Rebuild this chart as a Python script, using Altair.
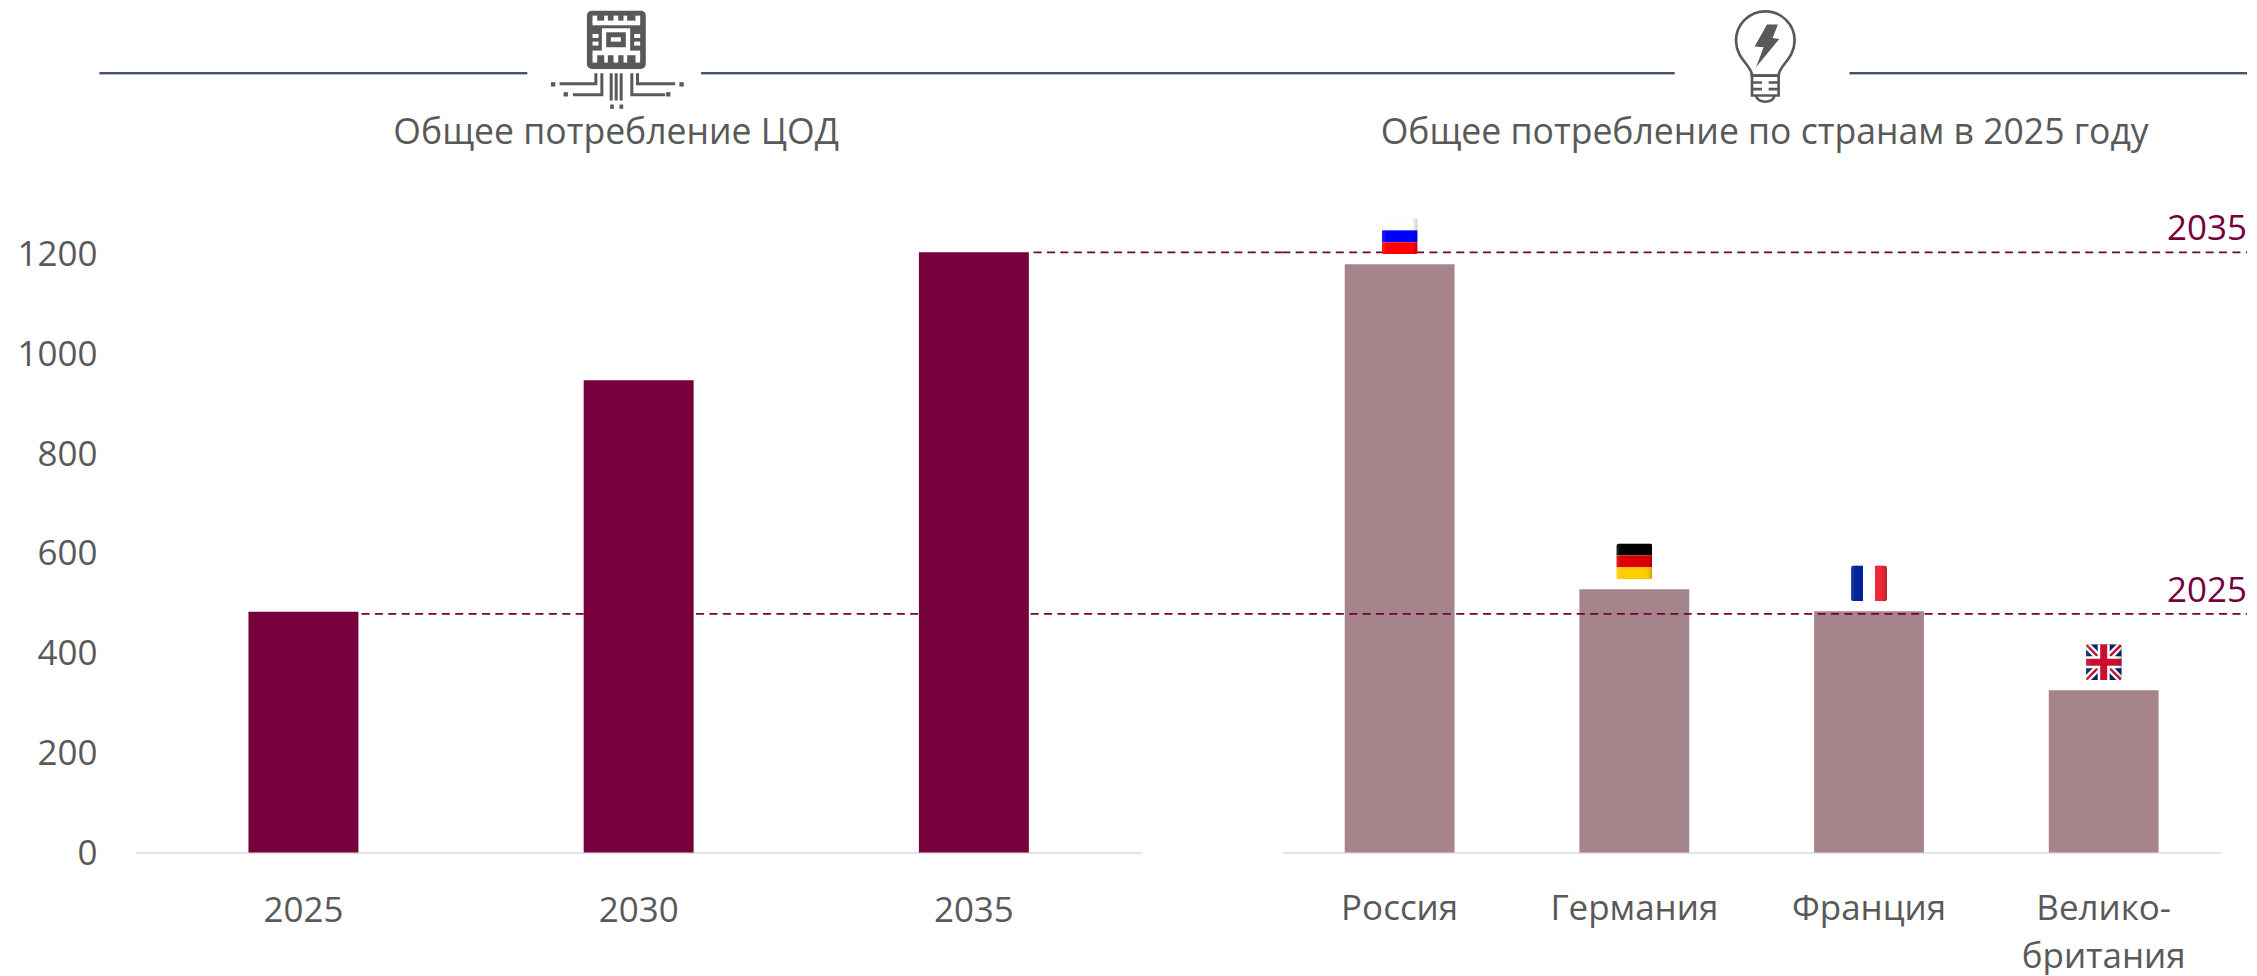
import base64
import altair as alt
import pandas as pd

# ---- values
years = ["2025", "2030", "2035"]
total_use = [482, 946, 1202]
countries = ["Россия", "Германия", "Франция", "Велико-|британия"]
country_use = [1178, 527, 483, 325]
level_names = ["2025", "2035"]
level_values = [478, 1202]
y_ticks = [0, 200, 400, 600, 800, 1000, 1200]
title_left = "Общее потребление ЦОД"
title_right = "Общее потребление по странам в 2025 году"

FONT = "Open Sans"
GREY = "#595959"
WINE = "#76003c"
ROSE = "#a5848c"
NAVY = "#44546a"
FS = 35
YMAX = 1690
H = 845


def uri(svg):
    return "data:image/svg+xml;base64," + base64.b64encode(svg.encode()).decode()


def flag(body):
    return uri(
        '<svg xmlns="http://www.w3.org/2000/svg" width="108" height="108" viewBox="0 0 36 36">'
        '<defs><clipPath id="c"><rect width="36" height="36" rx="3"/></clipPath>'
        '<linearGradient id="g"><stop offset="0" stop-color="#fff" stop-opacity=".14"/>'
        '<stop offset=".14" stop-color="#fff" stop-opacity="0"/>'
        '<stop offset=".85" stop-color="#000" stop-opacity="0"/>'
        '<stop offset="1" stop-color="#000" stop-opacity=".2"/></linearGradient></defs>'
        f'<g clip-path="url(#c)">{body}<rect width="36" height="36" fill="url(#g)"/></g>'
        '<rect x=".25" y=".25" width="35.5" height="35.5" rx="3" fill="none" stroke="#000" stroke-opacity=".08" stroke-width=".5"/></svg>'
    )


def stripes_h(a, b, c):
    return (f'<rect width="36" height="12" fill="{a}"/><rect y="12" width="36" height="12" fill="{b}"/>'
            f'<rect y="24" width="36" height="12" fill="{c}"/>')


flag_ru = flag(stripes_h("#ffffff", "#0000ff", "#ff0000"))
flag_de = flag(stripes_h("#000000", "#dd0000", "#ffce00"))
flag_fr = flag('<rect width="12" height="36" fill="#002395"/><rect x="12" width="12" height="36" fill="#fff"/>'
               '<rect x="24" width="12" height="36" fill="#ed2939"/>')
flag_uk = flag('<rect width="36" height="36" fill="#012169"/>'
               '<path d="M0 0L36 36M36 0L0 36" stroke="#fff" stroke-width="7"/>'
               '<path d="M0 0L36 36M36 0L0 36" stroke="#c8102e" stroke-width="2.4"/>'
               '<path d="M18 0V36M0 18H36" stroke="#fff" stroke-width="12"/>'
               '<path d="M18 0V36M0 18H36" stroke="#c8102e" stroke-width="7"/>')
flags = [flag_ru, flag_de, flag_fr, flag_uk]

chip = uri(
    '<svg xmlns="http://www.w3.org/2000/svg" width="435" height="330" viewBox="0 0 145 110">'
    f'<g transform="translate(35 -3) scale(.3333)" fill="{GREY}">'
    '<rect x="20" y="15" width="177" height="175" rx="15"/>'
    '<g fill="#fff">'
    '<rect x="37" y="45" width="143" height="14"/>'
    '<rect x="37" y="30" width="14" height="20"/><rect x="72" y="30" width="11" height="20"/>'
    '<rect x="100" y="30" width="14" height="20"/><rect x="130" y="30" width="11" height="20"/>'
    '<rect x="166" y="30" width="14" height="20"/>'
    '<rect x="37" y="135" width="143" height="14"/>'
    '<rect x="37" y="145" width="14" height="26"/><rect x="72" y="145" width="11" height="26"/>'
    '<rect x="100" y="145" width="14" height="26"/><rect x="130" y="145" width="11" height="26"/>'
    '<rect x="166" y="145" width="14" height="26"/>'
    '<rect x="37" y="85" width="18" height="12"/><rect x="37" y="108" width="18" height="12"/>'
    '<rect x="162" y="85" width="18" height="12"/><rect x="162" y="108" width="18" height="12"/>'
    '<rect x="65" y="68" width="85" height="69"/></g>'
    '<rect x="78" y="80" width="59" height="45"/>'
    '<rect x="92" y="95" width="30" height="13" fill="#fff"/></g>'
    f'<g transform="translate(-15 -8) scale(.3333)" fill="none" stroke="{GREY}" stroke-width="9">'
    '<path d="M197 218V250H88M215 218V283H128M322 218V250H435M305 218V283H405M243 218V300M258 218V300M273 218V300"/>'
    '</g>'
    f'<g transform="translate(-15 -8) scale(.3333)" fill="{GREY}">'
    '<rect x="62" y="245" width="13" height="13"/><rect x="100" y="275" width="13" height="13"/>'
    '<rect x="448" y="245" width="13" height="13"/><rect x="408" y="275" width="13" height="13"/>'
    '<rect x="240" y="312" width="11" height="13"/><rect x="268" y="312" width="11" height="13"/></g>'
    '</svg>'
)
bulb = uri(
    '<svg xmlns="http://www.w3.org/2000/svg" width="300" height="330" viewBox="0 0 100 110">'
    f'<g transform="translate(0 -8) scale(.3333)" fill="none" stroke="{GREY}" stroke-width="8">'
    '<path d="M160 225C160 195 112 175 112 120A88 88 0 1 1 288 120C288 175 240 195 240 225Z"/>'
    '<path d="M160 225H240V285H160ZM160 246H190M210 246H240M160 266H190M210 266H240M172 285C176 310 224 310 228 285"/>'
    f'</g><g transform="translate(0 -8) scale(.3333)" fill="{GREY}">'
    '<path d="M205 72L238 72L222 112L242 115L172 200L195 140L168 138Z"/></g></svg>'
)

left = pd.DataFrame({"k": years, "v": total_use})
right = pd.DataFrame({"k": countries, "v": country_use, "flag": flags})
levels = pd.DataFrame({"name": level_names, "v": level_values})
yscale = alt.Scale(domain=[0, YMAX], nice=False)

left_y = alt.Y("v:Q", scale=yscale, title=None,
               axis=alt.Axis(values=y_ticks, format="d", ticks=False, domain=False, grid=False, labelFont=FONT,
                             labelFontSize=FS, labelColor=GREY, labelPadding=39, labelOffset=1))
right_y = alt.Y("v:Q", scale=yscale, axis=None)


def annotation(text, cx):
    return (alt.Chart(pd.DataFrame({"t": [text]}))
            .mark_text(font=FONT, fontSize=FS + 0.6, color=GREY, align="center", baseline="alphabetic")
            .encode(text="t:N", x=alt.value(cx), y=alt.value(136)))


def header(a, b):
    dark = alt.Chart(pd.DataFrame({"a": [0]})).mark_rule(color=NAVY, strokeWidth=2.2).encode(
        x=alt.value(a), x2=alt.value(b), y=alt.value(64.5))
    pale = alt.Chart(pd.DataFrame({"a": [0]})).mark_rule(color="#d6dae0", strokeWidth=1).encode(
        x=alt.value(a), x2=alt.value(b), y=alt.value(66))
    return pale + dark


def icon(url, x, y, w, h):
    return (alt.Chart(pd.DataFrame({"u": [url]}))
            .mark_image(width=w, height=h, align="left", baseline="top")
            .encode(url="u:N", x=alt.value(x), y=alt.value(y)))


def level_rule(value, a, b, y_enc):
    return (alt.Chart(pd.DataFrame({"v": [value]}))
            .mark_rule(color=WINE, strokeWidth=1.8, strokeDash=[8, 5.4])
            .encode(y=y_enc, x=alt.value(a), x2=alt.value(b)))


x_axis = dict(title=None, labelAngle=0, labelFont=FONT, labelFontSize=FS, labelColor=GREY,
              ticks=False, domainColor="#d9d9d9", domainWidth=1.5, grid=False)

left_bars = alt.Chart(left).mark_bar(color=WINE).encode(
    x=alt.X("k:N", sort=years, axis=alt.Axis(labelPadding=41, **x_axis),
            scale=alt.Scale(paddingInner=0.672, paddingOuter=0.336)),
    y=left_y,
)

left_panel = alt.layer(
    level_rule(level_values[0], 226, 1148, left_y),
    level_rule(level_values[1], 899, 1148, left_y),
    left_bars,
    header(-36.5, 392), header(566, 1541),
    icon(chip, 410, 0, 145, 110),
    annotation(title_left, 481),
).properties(width=1007, height=H)

right_x = alt.X("k:N", sort=countries,
                axis=alt.Axis(labelExpr="split(datum.label, '|')", labelLineHeight=48, labelPadding=39, **x_axis),
                scale=alt.Scale(paddingInner=0.532, paddingOuter=0.266))

right_bars = alt.Chart(right).mark_bar(color=ROSE).encode(x=right_x, y=right_y)
flag_marks = alt.Chart(right).mark_image(width=36, height=36, align="center", baseline="bottom", yOffset=-10).encode(
    x=right_x, y=right_y, url="flag:N")
level_text = alt.Chart(levels).mark_text(font=FONT, fontSize=FS, color=WINE, align="right", baseline="alphabetic", dy=-12).encode(
    y=right_y, x=alt.value(966), text="name:N")

right_panel = alt.layer(
    right_bars,
    level_rule(level_values[0], 0, 966, right_y),
    level_rule(level_values[1], 0, 966, right_y),
    flag_marks,
    level_text,
    header(568, 966),
    icon(bulb, 417, 0, 100, 110),
    annotation(title_right, 483),
).properties(width=940, height=H)

chart = (alt.hconcat(left_panel, right_panel, spacing=141, bounds="flush")
         .resolve_scale(x="independent", y="independent")
         .properties(padding={"left": 8, "top": 0, "right": 0, "bottom": 0}, background="white")
         .configure_view(strokeWidth=0))

chart.save("out.html", embed_options={"renderer": "svg", "actions": False})
